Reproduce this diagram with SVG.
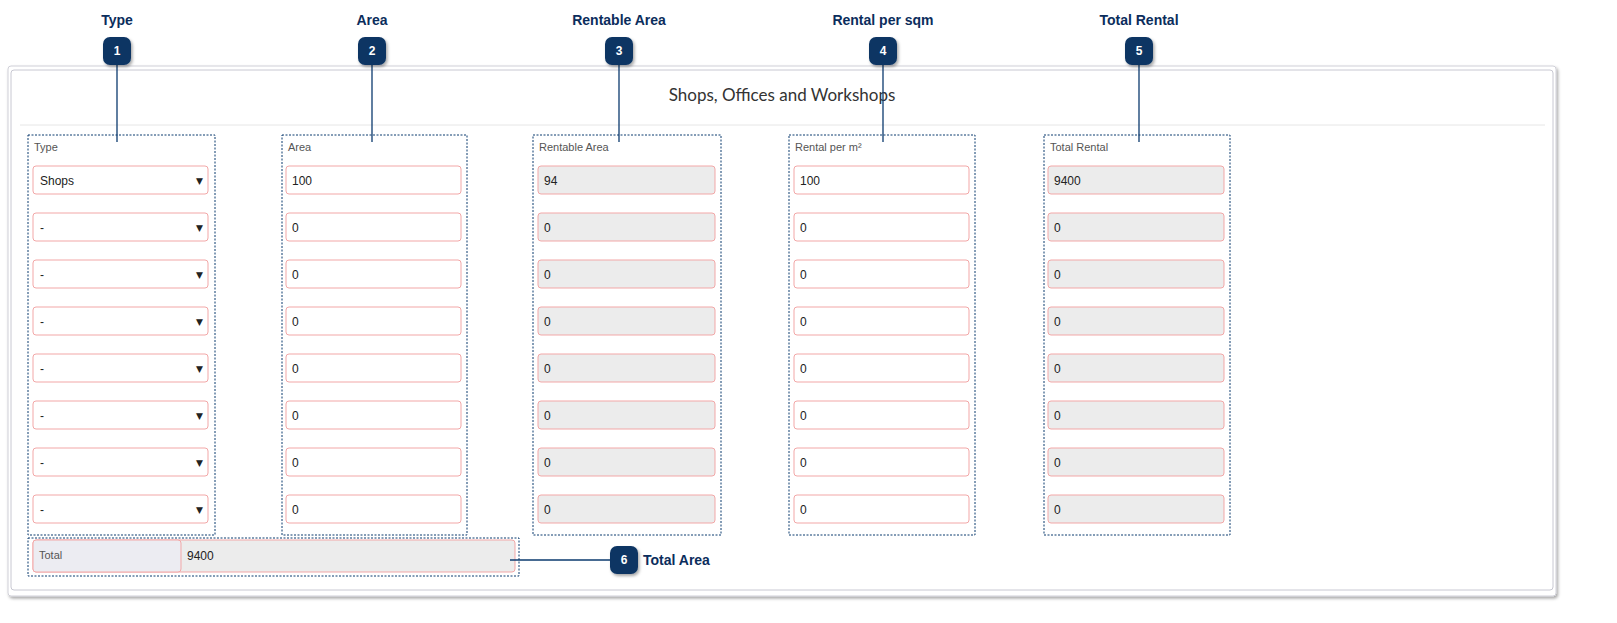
<svg xmlns="http://www.w3.org/2000/svg" width="1617" height="623" viewBox="0 0 1617 623">
<style>
.in{fill:#fff;stroke:#f2a7a7;stroke-width:1}
.ro{fill:#ececec;stroke:#f2a7a7;stroke-width:1}
.box{fill:none;stroke:#0b3a6e;stroke-width:1;stroke-dasharray:2 1.5}
.lbl{font-family:"Liberation Sans",Arial,sans-serif;font-size:11px;fill:#555}
.val{font-family:"Liberation Sans",Arial,sans-serif;font-size:12px;fill:#222}
.arr{font-family:"DejaVu Sans",sans-serif;font-size:9px;fill:#222}
.cap{font-family:"Liberation Sans",Arial,sans-serif;font-size:14px;font-weight:bold;fill:#0b2d5c;text-anchor:middle}
.badge{fill:#0b3563}
.num{font-family:"Liberation Sans",Arial,sans-serif;font-size:12px;font-weight:bold;fill:#fff;text-anchor:middle}
.con{stroke:#0b3a6e;stroke-width:1.3;fill:none}
</style>
<defs>
<filter id="sh" x="-20%" y="-20%" width="140%" height="140%"><feDropShadow dx="1.5" dy="2" stdDeviation="1.5" flood-color="#000" flood-opacity="0.35"/></filter>
</defs>
<rect width="1617" height="623" fill="#fff"/>
<g id="panel">
<rect x="8" y="66" width="1548" height="530" rx="3" fill="#fff" stroke="#d0d0d8" filter="url(#sh)"/>
<rect x="11" y="70" width="1542" height="520" rx="3" fill="#fff" stroke="#c8c8d2"/>
<line x1="20" y1="125" x2="1545" y2="125" stroke="#e6e6e6"/>
<text x="782" y="101" text-anchor="middle" font-family="Lato,'Liberation Sans',sans-serif" font-size="17" fill="#333">Shops, Offices and Workshops</text>
</g>
<g id="col1">
<rect class="box" x="28" y="135" width="187" height="400"/>
<text class="lbl" x="34" y="151">Type</text>
<rect class="in" x="33" y="166" width="175" height="28" rx="3"/><text class="val" x="40" y="185">Shops</text><text class="arr" x="196" y="184">▼</text>
<rect class="in" x="33" y="213" width="175" height="28" rx="3"/><text class="val" x="40" y="232">-</text><text class="arr" x="196" y="231">▼</text>
<rect class="in" x="33" y="260" width="175" height="28" rx="3"/><text class="val" x="40" y="279">-</text><text class="arr" x="196" y="278">▼</text>
<rect class="in" x="33" y="307" width="175" height="28" rx="3"/><text class="val" x="40" y="326">-</text><text class="arr" x="196" y="325">▼</text>
<rect class="in" x="33" y="354" width="175" height="28" rx="3"/><text class="val" x="40" y="373">-</text><text class="arr" x="196" y="372">▼</text>
<rect class="in" x="33" y="401" width="175" height="28" rx="3"/><text class="val" x="40" y="420">-</text><text class="arr" x="196" y="419">▼</text>
<rect class="in" x="33" y="448" width="175" height="28" rx="3"/><text class="val" x="40" y="467">-</text><text class="arr" x="196" y="466">▼</text>
<rect class="in" x="33" y="495" width="175" height="28" rx="3"/><text class="val" x="40" y="514">-</text><text class="arr" x="196" y="513">▼</text>
</g>
<g id="col2">
<rect class="box" x="282" y="135" width="185" height="400"/>
<text class="lbl" x="288" y="151">Area</text>
<rect class="in" x="286" y="166" width="175" height="28" rx="3"/><text class="val" x="292" y="185">100</text>
<rect class="in" x="286" y="213" width="175" height="28" rx="3"/><text class="val" x="292" y="232">0</text>
<rect class="in" x="286" y="260" width="175" height="28" rx="3"/><text class="val" x="292" y="279">0</text>
<rect class="in" x="286" y="307" width="175" height="28" rx="3"/><text class="val" x="292" y="326">0</text>
<rect class="in" x="286" y="354" width="175" height="28" rx="3"/><text class="val" x="292" y="373">0</text>
<rect class="in" x="286" y="401" width="175" height="28" rx="3"/><text class="val" x="292" y="420">0</text>
<rect class="in" x="286" y="448" width="175" height="28" rx="3"/><text class="val" x="292" y="467">0</text>
<rect class="in" x="286" y="495" width="175" height="28" rx="3"/><text class="val" x="292" y="514">0</text>
</g>
<g id="col3">
<rect class="box" x="533" y="135" width="188" height="400"/>
<text class="lbl" x="539" y="151">Rentable Area</text>
<rect class="ro" x="538" y="166" width="177" height="28" rx="3"/><text class="val" x="544" y="185">94</text>
<rect class="ro" x="538" y="213" width="177" height="28" rx="3"/><text class="val" x="544" y="232">0</text>
<rect class="ro" x="538" y="260" width="177" height="28" rx="3"/><text class="val" x="544" y="279">0</text>
<rect class="ro" x="538" y="307" width="177" height="28" rx="3"/><text class="val" x="544" y="326">0</text>
<rect class="ro" x="538" y="354" width="177" height="28" rx="3"/><text class="val" x="544" y="373">0</text>
<rect class="ro" x="538" y="401" width="177" height="28" rx="3"/><text class="val" x="544" y="420">0</text>
<rect class="ro" x="538" y="448" width="177" height="28" rx="3"/><text class="val" x="544" y="467">0</text>
<rect class="ro" x="538" y="495" width="177" height="28" rx="3"/><text class="val" x="544" y="514">0</text>
</g>
<g id="col4">
<rect class="box" x="789" y="135" width="186" height="400"/>
<text class="lbl" x="795" y="151">Rental per m²</text>
<rect class="in" x="794" y="166" width="175" height="28" rx="3"/><text class="val" x="800" y="185">100</text>
<rect class="in" x="794" y="213" width="175" height="28" rx="3"/><text class="val" x="800" y="232">0</text>
<rect class="in" x="794" y="260" width="175" height="28" rx="3"/><text class="val" x="800" y="279">0</text>
<rect class="in" x="794" y="307" width="175" height="28" rx="3"/><text class="val" x="800" y="326">0</text>
<rect class="in" x="794" y="354" width="175" height="28" rx="3"/><text class="val" x="800" y="373">0</text>
<rect class="in" x="794" y="401" width="175" height="28" rx="3"/><text class="val" x="800" y="420">0</text>
<rect class="in" x="794" y="448" width="175" height="28" rx="3"/><text class="val" x="800" y="467">0</text>
<rect class="in" x="794" y="495" width="175" height="28" rx="3"/><text class="val" x="800" y="514">0</text>
</g>
<g id="col5">
<rect class="box" x="1044" y="135" width="186" height="400"/>
<text class="lbl" x="1050" y="151">Total Rental</text>
<rect class="ro" x="1048" y="166" width="176" height="28" rx="3"/><text class="val" x="1054" y="185">9400</text>
<rect class="ro" x="1048" y="213" width="176" height="28" rx="3"/><text class="val" x="1054" y="232">0</text>
<rect class="ro" x="1048" y="260" width="176" height="28" rx="3"/><text class="val" x="1054" y="279">0</text>
<rect class="ro" x="1048" y="307" width="176" height="28" rx="3"/><text class="val" x="1054" y="326">0</text>
<rect class="ro" x="1048" y="354" width="176" height="28" rx="3"/><text class="val" x="1054" y="373">0</text>
<rect class="ro" x="1048" y="401" width="176" height="28" rx="3"/><text class="val" x="1054" y="420">0</text>
<rect class="ro" x="1048" y="448" width="176" height="28" rx="3"/><text class="val" x="1054" y="467">0</text>
<rect class="ro" x="1048" y="495" width="176" height="28" rx="3"/><text class="val" x="1054" y="514">0</text>
</g>
<g id="total">
<rect class="box" x="28" y="538" width="491" height="38"/>
<rect x="33" y="540" width="482" height="32" rx="3" fill="#ececec" stroke="#f2a7a7"/>
<rect x="33" y="540" width="148" height="32" rx="3" fill="#ececf2" stroke="#f2a7a7"/>
<text class="lbl" x="39" y="559" fill="#333">Total</text>
<text class="val" x="187" y="560">9400</text>
</g>
<g id="connectors">
<line class="con" x1="117" y1="60" x2="117" y2="142"/>
<line class="con" x1="372" y1="60" x2="372" y2="142"/>
<line class="con" x1="619" y1="60" x2="619" y2="142"/>
<line class="con" x1="883" y1="60" x2="883" y2="142"/>
<line class="con" x1="1139" y1="60" x2="1139" y2="142"/>
<line class="con" x1="510" y1="560" x2="612" y2="560"/>
</g>
<g id="c1"><text class="cap" x="117" y="25">Type</text><rect class="badge" x="103" y="37" width="28" height="28" rx="7" filter="url(#sh)"/><text class="num" x="117" y="55">1</text></g>
<g id="c2"><text class="cap" x="372" y="25">Area</text><rect class="badge" x="358" y="37" width="28" height="28" rx="7" filter="url(#sh)"/><text class="num" x="372" y="55">2</text></g>
<g id="c3"><text class="cap" x="619" y="25">Rentable Area</text><rect class="badge" x="605" y="37" width="28" height="28" rx="7" filter="url(#sh)"/><text class="num" x="619" y="55">3</text></g>
<g id="c4"><text class="cap" x="883" y="25">Rental per sqm</text><rect class="badge" x="869" y="37" width="28" height="28" rx="7" filter="url(#sh)"/><text class="num" x="883" y="55">4</text></g>
<g id="c5"><text class="cap" x="1139" y="25">Total Rental</text><rect class="badge" x="1125" y="37" width="28" height="28" rx="7" filter="url(#sh)"/><text class="num" x="1139" y="55">5</text></g>
<g id="c6"><rect class="badge" x="610" y="546" width="28" height="28" rx="7" filter="url(#sh)"/><text class="num" x="624" y="564">6</text><text class="cap" x="643" y="565" style="text-anchor:start">Total Area</text></g>
</svg>
